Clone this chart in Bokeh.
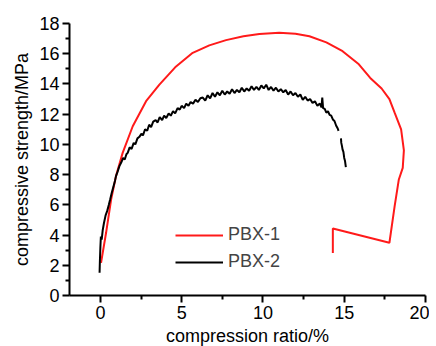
from bokeh.plotting import figure
from bokeh.models import Legend, LegendItem, FixedTicker
from bokeh.embed import file_html
from bokeh.resources import INLINE

FONT = "Liberation Sans"
FS = "18px"

# PBX-1 (red) compression ratio (%) / strength (MPa)
pbx1_x = [0.04, 0.35, 0.66, 0.96, 1.37, 1.99, 2.81, 3.63, 4.6, 5.68, 6.7, 7.73, 8.8, 9.78,
          11.0, 12.0, 12.86, 13.9, 14.9, 15.9, 16.6, 17.3, 17.78, 18.1, 18.5, 18.67, 18.6,
          18.36, 18.1, 17.78, 14.3, 14.3]
pbx1_y = [2.16, 4.15, 6.35, 7.9, 9.44, 11.2, 12.86, 13.95, 15.1, 16.06, 16.55, 16.9, 17.15, 17.3,
          17.38, 17.32, 17.16, 16.75, 16.17, 15.3, 14.4, 13.7, 13.0, 12.1, 11.0, 9.6, 8.45,
          7.68, 5.9, 3.49, 4.43, 2.82]

# PBX-2 (black)
pbx2_x = [-0.05, -0.03, 0.0, 0.03, 0.08, 0.14, 0.22, 0.32, 0.42, 0.52, 0.6, 0.7, 0.8, 0.9,
          0.96, 1.06, 1.17, 1.28, 1.4, 1.5, 1.6, 1.68, 1.8, 1.92, 2.05, 2.15, 2.28, 2.4,
          2.52, 2.62, 2.75, 2.88, 3.0, 3.12, 3.25, 3.4, 3.52, 3.65, 3.8, 3.92, 4.05, 4.2,
          4.33, 4.47, 4.6, 4.75, 4.88, 5.0, 5.15, 5.28, 5.42, 5.55, 5.7, 5.85, 6.0, 6.15,
          6.3, 6.45, 6.6, 6.75, 6.9, 7.05, 7.2, 7.35, 7.5, 7.65, 7.8, 7.95, 8.1, 8.25,
          8.4, 8.55, 8.7, 8.85, 9.0, 9.15, 9.3, 9.45, 9.6, 9.75, 9.9, 10.05, 10.2, 10.35,
          10.5, 10.65, 10.8, 10.95, 11.1, 11.25, 11.4, 11.55, 11.7, 11.85, 12.0, 12.15,
          12.3, 12.45, 12.6, 12.75, 12.9, 13.05, 13.2, 13.35, 13.5, 13.6, 13.65, 13.7,
          13.8, 13.9, 14.0, 14.1, 14.2, 14.3, 14.4, 14.5, 14.6, 14.65,
          float("nan"),
          14.8, 14.82, 14.86, 14.9, 14.95, 15.0, 15.05, 15.1]
pbx2_y = [1.5, 2.3, 3.2, 3.9, 3.7, 4.3, 4.8, 5.3, 5.6, 6.0, 6.35, 6.8, 7.2, 7.6,
          7.9, 8.2, 8.56, 8.8, 9.1, 9.0, 9.35, 9.44, 9.8, 9.7, 10.1, 10.0, 10.4, 10.5,
          10.7, 10.6, 11.0, 10.9, 11.3, 11.15, 11.5, 11.6, 11.45, 11.8, 11.6, 11.9, 11.75, 12.05,
          11.9, 12.2, 12.05, 12.4, 12.3, 12.55, 12.4, 12.7, 12.55, 12.8, 12.7, 12.95, 12.8, 13.05,
          13.1, 12.9, 13.25, 13.05, 13.4, 13.15, 13.45, 13.25, 13.55, 13.3, 13.5, 13.35, 13.65, 13.4,
          13.6, 13.45, 13.75, 13.5, 13.7, 13.55, 13.85, 13.6, 13.8, 13.6, 13.9, 13.7, 13.95, 13.6,
          13.8, 13.55, 13.75, 13.5, 13.65, 13.45, 13.6, 13.3, 13.5, 13.25, 13.4, 13.15,
          13.3, 12.95, 13.15, 12.9, 13.0, 12.75, 12.85, 12.55, 12.7, 12.45, 13.1, 12.4,
          12.35, 12.1, 12.2, 11.95, 11.9, 11.65, 11.55, 11.25, 11.05, 10.9,
          float("nan"),
          10.4, 10.1, 9.9, 9.65, 9.5, 9.1, 8.9, 8.5]

x_ticks = [0, 5, 10, 15, 20]
x_minor = [2.5, 7.5, 12.5, 17.5]
y_ticks = [0, 2, 4, 6, 8, 10, 12, 14, 16, 18]
y_minor = [1, 3, 5, 7, 9, 11, 13, 15, 17]

p = figure(frame_width=356, frame_height=272, x_range=(-1.9, 20), y_range=(0, 18),
           output_backend="svg", toolbar_location=None,
           min_border_left=69, min_border_top=23, min_border_right=4, min_border_bottom=44)
p.outline_line_color = None
p.xgrid.visible = False
p.ygrid.visible = False
p.background_fill_color = "white"

r1 = p.line(pbx1_x, pbx1_y, line_color="#ff1a1a", line_width=2)
r2 = p.line(pbx2_x, pbx2_y, line_color="black", line_width=2)

p.xaxis.ticker = FixedTicker(ticks=x_ticks, minor_ticks=x_minor)
p.yaxis.ticker = FixedTicker(ticks=y_ticks, minor_ticks=y_minor)
p.xaxis.axis_label = "compression ratio/%"
p.yaxis.axis_label = "compressive strength/MPa"

for ax in (p.xaxis[0], p.yaxis[0]):
    ax.axis_line_width = 2
    ax.axis_line_color = "black"
    ax.major_tick_line_width = 2
    ax.minor_tick_line_width = 2
    ax.major_tick_in = 0
    ax.major_tick_out = 7
    ax.minor_tick_in = 0
    ax.minor_tick_out = 4
    ax.major_label_text_font = FONT
    ax.major_label_text_font_size = FS
    ax.major_label_text_color = "black"
    ax.axis_label_text_font = FONT
    ax.axis_label_text_font_size = FS
    ax.axis_label_text_font_style = "normal"
    ax.axis_label_text_color = "black"
    ax.major_label_standoff = 3
    ax.axis_label_standoff = 4

legend = Legend(items=[LegendItem(label="PBX-1", renderers=[r1]),
                       LegendItem(label="PBX-2", renderers=[r2])],
                location=(106, 23), padding=0, margin=0, spacing=6,
                glyph_width=48, label_standoff=5,
                label_text_font=FONT, label_text_font_size=FS,
                border_line_color=None, background_fill_alpha=0)
p.add_layout(legend, "center")

open("out.html", "w").write(file_html(p, INLINE))
